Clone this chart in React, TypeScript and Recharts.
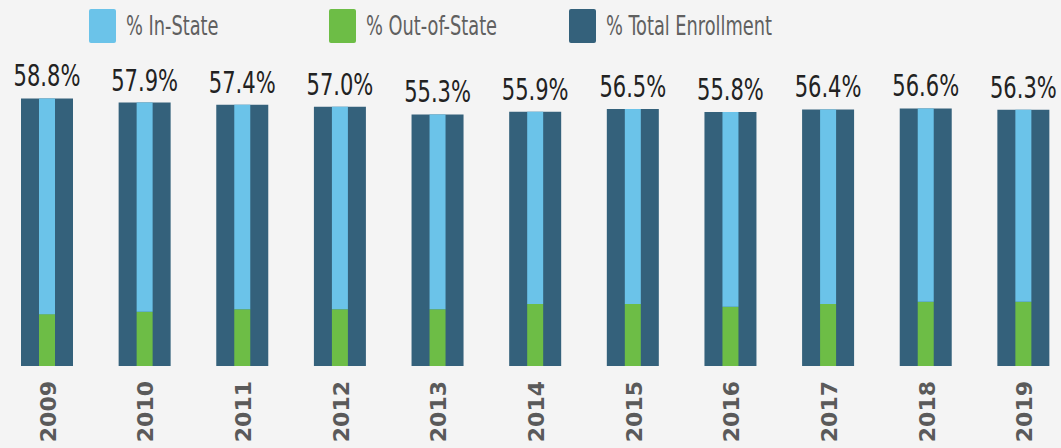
import React from "react"
import { BarChart, Bar, XAxis, YAxis, Legend, LabelList } from "recharts"

const years = ["2009", "2010", "2011", "2012", "2013", "2014", "2015", "2016", "2017", "2018", "2019"]
const totalEnrollment = [58.8, 57.9, 57.4, 57.0, 55.3, 55.9, 56.5, 55.8, 56.4, 56.6, 56.3]
const outOfState = [11.4, 11.9, 12.5, 12.5, 12.5, 13.6, 13.6, 13.0, 13.6, 14.1, 14.1]
const inState = [47.4, 46.0, 44.9, 44.5, 42.8, 42.3, 42.9, 42.8, 42.8, 42.5, 42.2]

const data = years.map((year, i) => ({
  year,
  total: totalEnrollment[i],
  outState: outOfState[i],
  inState: inState[i],
}))

const legendItems = [
  { label: "% In-State", color: "#6bc3e9" },
  { label: "% Out-of-State", color: "#6dbd46" },
  { label: "% Total Enrollment", color: "#34617b" },
]

const narrow = "'DejaVu Sans Condensed', 'DejaVu Sans', sans-serif"

function renderLegend() {
  return (
    <div style={{ position: "relative", height: 50 }}>
      {legendItems.map((item, i) => (
        <div
          key={item.label}
          style={{ position: "absolute", left: 91 + i * 240, top: 9, display: "flex", alignItems: "center" }}
        >
          <span
            style={{ width: 27, height: 34, background: item.color, borderRadius: 2, display: "inline-block" }}
          />
          <span
            style={{
              marginLeft: 10,
              fontFamily: narrow,
              fontSize: 26,
              color: "#606060",
              whiteSpace: "nowrap",
              display: "inline-block",
              transform: "scaleX(0.76)",
              transformOrigin: "left center",
            }}
          >
            {item.label}
          </span>
        </div>
      ))}
    </div>
  )
}

// value label above each total bar, squeezed to look like the condensed original font
function ValueLabel({ x, y, width, value }: any) {
  const cx = x + width / 2
  return (
    <text
      transform={`translate(${cx},${y - 12}) scale(0.78,1)`}
      textAnchor="middle"
      fontFamily={narrow}
      fontSize={30}
      fill="#222"
    >
      {`${Number(value).toFixed(1)}%`}
    </text>
  )
}

function YearTick({ x, y, payload }: any) {
  return (
    <text
      transform={`translate(${x + 9},${y + 15}) rotate(-90)`}
      textAnchor="end"
      fontFamily="'DejaVu Sans', sans-serif"
      fontWeight="bold"
      fontSize={22}
      fill="#5a5a5a"
    >
      {payload.value}
    </text>
  )
}

export default function App() {
  return (
    <div
      style={{
        position: "fixed",
        left: 0,
        top: 0,
        width: 1061,
        height: 448,
        overflow: "hidden",
        background: "#f4f4f4",
      }}
    >
      <div style={{ position: "absolute", left: -2, top: 0 }}>
        <BarChart width={1074} height={448} data={data} margin={{ top: 93, right: 0, bottom: 0, left: 0 }}>
          <XAxis xAxisId="total" dataKey="year" hide />
          <XAxis
            xAxisId="parts"
            dataKey="year"
            height={82}
            axisLine={false}
            tickLine={false}
            tickSize={0}
            tickMargin={0}
            interval={0}
            tick={<YearTick />}
          />
          <YAxis hide domain={[0, 60]} />
          <Legend
            layout="horizontal"
            verticalAlign="middle"
            align="center"
            wrapperStyle={{ top: 0, left: 0, width: 1074 }}
            content={renderLegend}
          />
          <Bar xAxisId="total" dataKey="total" fill="#34617b" barSize={52} isAnimationActive={false}>
            <LabelList dataKey="total" content={<ValueLabel />} />
          </Bar>
          <Bar xAxisId="parts" dataKey="outState" stackId="s" fill="#6dbd46" barSize={16} isAnimationActive={false} />
          <Bar xAxisId="parts" dataKey="inState" stackId="s" fill="#6bc3e9" barSize={16} isAnimationActive={false} />
        </BarChart>
      </div>
    </div>
  )
}
